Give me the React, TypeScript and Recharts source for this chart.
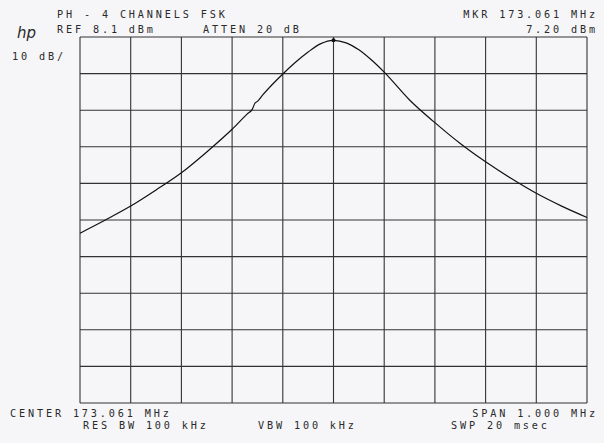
import React from "react";
import { LineChart, Line, XAxis, YAxis, CartesianGrid, ReferenceDot } from "recharts";

// Frequency offset from center (kHz) and measured level (dBm)
const freqOffsetsKHz = [-500, -450, -400, -350, -300, -250, -200, -170, -160, -155, -150, -140, -100, -75, -50, -25, 0, 25, 50, 75, 100, 150, 200, 250, 300, 350, 400, 450, 500];
const levelsDbm = [-45.5, -41.9, -38.1, -33.7, -29.0, -23.3, -17.1, -12.9, -11.6, -10.0, -9.5, -7.8, -2.0, 1.2, 4.0, 6.3, 7.2, 6.5, 4.6, 1.8, -1.5, -9.1, -15.3, -21.0, -26.0, -30.5, -34.6, -38.1, -41.2];

const xTicks = [-500, -400, -300, -200, -100, 0, 100, 200, 300, 400, 500];
const yTicks = [8.1, -1.9, -11.9, -21.9, -31.9, -41.9, -51.9, -61.9, -71.9, -81.9, -91.9];

const headerLine1 = "PH - 4 CHANNELS FSK";
const refText = "REF 8.1 dBm";
const attenText = "ATTEN 20 dB";
const mkrFreqText = "MKR 173.061 MHz";
const mkrLevelText = "7.20 dBm";
const scaleText = "10 dB/";
const centerText = "CENTER 173.061 MHz";
const spanText = "SPAN 1.000 MHz";
const rbwText = "RES BW 100 kHz";
const vbwText = "VBW 100 kHz";
const swpText = "SWP 20 msec";

const data = freqOffsetsKHz.map((f, i) => ({ f, v: levelsDbm[i] }));

const txt: React.CSSProperties = {
  position: "absolute",
  fontFamily: "'DejaVu Sans Mono', monospace",
  fontSize: 10.2,
  letterSpacing: 2.85,
  lineHeight: "10px",
  color: "#2a2a2a",
  whiteSpace: "pre",
};

export default function App() {
  return (
    <div style={{ position: "absolute", left: 0, top: 0, width: 604, height: 443, background: "#f6f6f9", overflow: "hidden" }}>
      <LineChart width={604} height={443} data={data} margin={{ top: 37, right: 17, bottom: 40, left: 80 }}>
        <XAxis dataKey="f" type="number" domain={[-500, 500]} ticks={xTicks} hide />
        <YAxis type="number" domain={[-91.9, 8.1]} ticks={yTicks} hide />
        <CartesianGrid stroke="#333" strokeWidth={1.1} horizontalValues={yTicks} verticalValues={xTicks} />
        <Line dataKey="v" type="monotone" stroke="#111" strokeWidth={1.2} dot={false} isAnimationActive={false} />
        <ReferenceDot x={0} y={7.2} r={2} fill="#111" stroke="none" />
      </LineChart>
      <div style={{ ...txt, left: 57, top: 10 }}>{headerLine1}</div>
      <div style={{ ...txt, left: 57, top: 24.5 }}>{refText}</div>
      <div style={{ ...txt, left: 203, top: 24.5 }}>{attenText}</div>
      <div style={{ ...txt, right: 6, top: 10 }}>{mkrFreqText}</div>
      <div style={{ ...txt, right: 6, top: 24.5 }}>{mkrLevelText}</div>
      <div style={{ ...txt, left: 12, top: 51.5 }}>{scaleText}</div>
      <div style={{ position: "absolute", left: 17, top: 25, fontFamily: "'DejaVu Sans', sans-serif", fontStyle: "italic", fontWeight: 300, fontSize: 15, lineHeight: "16px", color: "#2a2a2a" }}>hp</div>
      <div style={{ ...txt, left: 10, top: 408.5 }}>{centerText}</div>
      <div style={{ ...txt, right: 6, top: 408.5 }}>{spanText}</div>
      <div style={{ ...txt, left: 83, top: 420.5 }}>{rbwText}</div>
      <div style={{ ...txt, left: 258, top: 420.5 }}>{vbwText}</div>
      <div style={{ ...txt, left: 451, top: 420.5 }}>{swpText}</div>
    </div>
  );
}
